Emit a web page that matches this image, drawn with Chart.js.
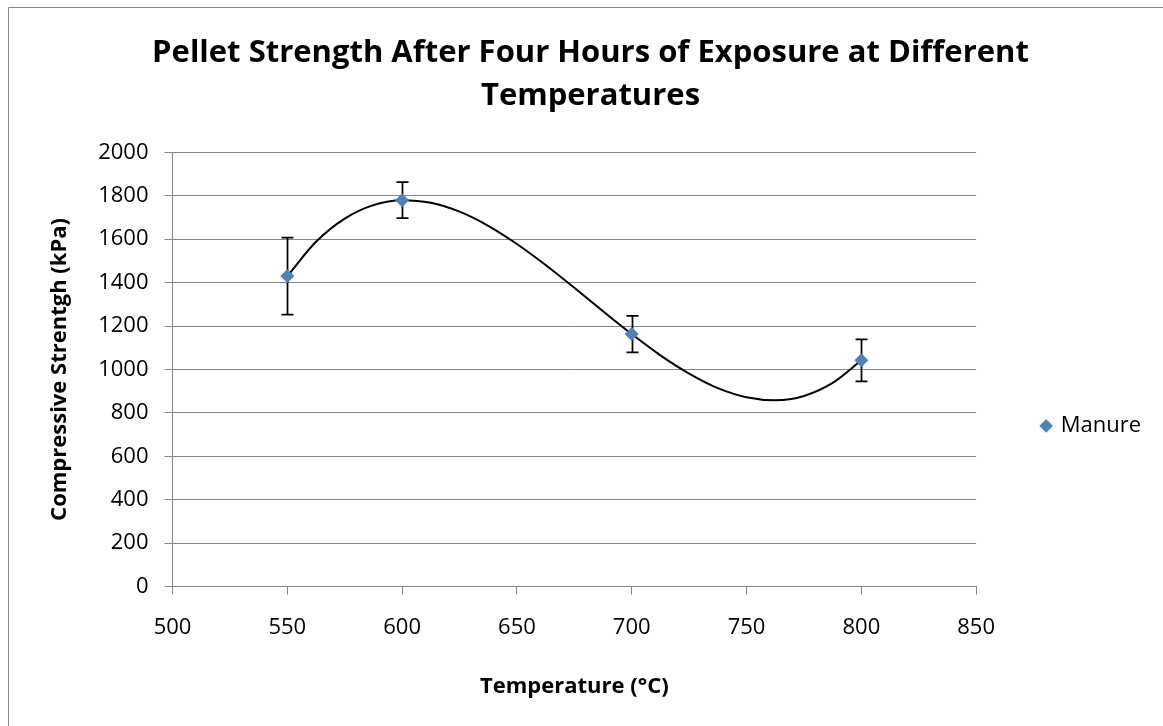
<!DOCTYPE html>
<html>
<head>
<meta charset="utf-8">
<script src="https://cdn.jsdelivr.net/npm/chart.js@4.4.1/dist/chart.umd.min.js"></script>
<style>
  html, body { margin: 0; padding: 0; background: #fff; }
  #wrap { position: relative; width: 1163px; height: 726px; }
</style>
</head>
<body>
<div id="wrap"><canvas id="chart"></canvas></div>
<script>
// ---- Data ----
const temps = [550, 600, 700, 800];
const strength = [1430, 1780, 1163, 1042];
const errAmount = [177, 83, 84, 97];

// trendline (polynomial)
const trendTemps = [550, 562.5, 575, 587.5, 600, 612.5, 625, 637.5, 650, 662.5, 675, 687.5,
  700, 712.5, 725, 737.5, 750, 762.5, 775, 787.5, 800];
const trendValues = [1430, 1588, 1695, 1757, 1780, 1768, 1727, 1662, 1578, 1481, 1376, 1268,
  1163, 1065, 981, 914, 872, 858, 878, 938, 1042];

const xTicks = [500, 550, 600, 650, 700, 750, 800, 850];
const yTicks = [0, 200, 400, 600, 800, 1000, 1200, 1400, 1600, 1800, 2000];

const titleLines = ["Pellet Strength After Four Hours of Exposure at Different", "Temperatures"];
const seriesName = "Manure";

const FONT = "'Open Sans', Lato, sans-serif";
const GRID = "#868686";
const MARKER = "#4F81BD";

// ---- Plugins ----
const frame = {
  id: "frame",
  beforeDraw(chart) {
    const ctx = chart.ctx;
    ctx.save();
    ctx.strokeStyle = GRID;
    ctx.lineWidth = 1;
    ctx.beginPath();
    ctx.moveTo(8.5, chart.height);
    ctx.lineTo(8.5, 7.5);
    ctx.lineTo(chart.width, 7.5);
    ctx.stroke();
    ctx.restore();
  },
};

const errorBars = {
  id: "errorBars",
  beforeDatasetDraw(chart, args) {
    if (args.index !== 0) return;
    const { ctx } = chart;
    const x = chart.scales.x;
    const y = chart.scales.y;
    ctx.save();
    ctx.strokeStyle = "#000";
    ctx.lineWidth = 1.75;
    temps.forEach((t, i) => {
      const px = Math.round(x.getPixelForValue(t)) + 0.5;
      const top = y.getPixelForValue(strength[i] + errAmount[i]);
      const bot = y.getPixelForValue(strength[i] - errAmount[i]);
      ctx.beginPath();
      ctx.moveTo(px, top);
      ctx.lineTo(px, bot);
      ctx.moveTo(px - 6, top);
      ctx.lineTo(px + 6, top);
      ctx.moveTo(px - 6, bot);
      ctx.lineTo(px + 6, bot);
      ctx.stroke();
    });
    ctx.restore();
  },
};

new Chart(document.getElementById("chart"), {
  type: "scatter",
  data: {
    datasets: [
      {
        label: seriesName,
        data: temps.map((t, i) => ({ x: t, y: strength[i] })),
        pointStyle: "rectRot",
        pointRadius: 6.5,
        pointHoverRadius: 6.5,
        backgroundColor: MARKER,
        borderColor: MARKER,
        borderWidth: 1,
        order: 1,
      },
      {
        label: "trend",
        data: trendTemps.map((t, i) => ({ x: t, y: trendValues[i] })),
        showLine: true,
        cubicInterpolationMode: "monotone",
        borderColor: "#000",
        borderWidth: 2,
        pointRadius: 0,
        fill: false,
        order: 2,
      },
    ],
  },
  options: {
    responsive: true,
    maintainAspectRatio: false,
    animation: false,
    layout: { padding: { left: 30, top: 0, right: 12, bottom: 0 } },
    scales: {
      x: {
        type: "linear",
        min: 500,
        max: 850,
        afterBuildTicks: (s) => { s.ticks = xTicks.map((v) => ({ value: v })); },
        afterFit: (s) => { s.height = 139.5; },
        ticks: { color: "#000", font: { family: FONT, size: 22 }, padding: 20, callback: (v) => String(v) },
        grid: { drawOnChartArea: false, drawTicks: true, tickLength: 8, color: GRID },
        border: { display: true, color: GRID },
        title: {
          display: true,
          text: "Temperature (°C)",
          color: "#000",
          font: { family: FONT, size: 22, weight: "bold" },
          padding: { top: 0, bottom: 26 },
        },
      },
      y: {
        type: "linear",
        min: 0,
        max: 2000,
        afterBuildTicks: (s) => { s.ticks = yTicks.map((v) => ({ value: v })); },
        afterFit: (s) => { s.width = 142.5; },
        ticks: { color: "#000", font: { family: FONT, size: 22 }, padding: 16, callback: (v) => String(v) },
        grid: { color: GRID, tickLength: 8, drawTicks: true },
        border: { display: true, color: GRID },
        title: {
          display: true,
          text: "Compressive Strentgh (kPa)",
          color: "#000",
          font: { family: FONT, size: 22, weight: "bold" },
          padding: { top: 17, bottom: 0 },
        },
      },
    },
    plugins: {
      title: {
        display: true,
        text: titleLines,
        color: "#000",
        font: { family: FONT, size: 31, weight: "bold", lineHeight: 1.4 },
        padding: { top: 31, bottom: 34.6 },
      },
      legend: {
        position: "right",
        fullSize: false,
        maxWidth: 186,
        title: { display: true, text: "", padding: { top: 101, bottom: 0 }, font: { size: 10 } },
        labels: {
          filter: (item) => item.datasetIndex === 0,
          usePointStyle: true,
          boxWidth: 7,
          boxHeight: 9,
          padding: 66.5,
          color: "#000",
          font: { family: FONT, size: 22 },
        },
      },
      tooltip: { enabled: false },
    },
  },
  plugins: [frame, errorBars],
});
</script>
</body>
</html>
